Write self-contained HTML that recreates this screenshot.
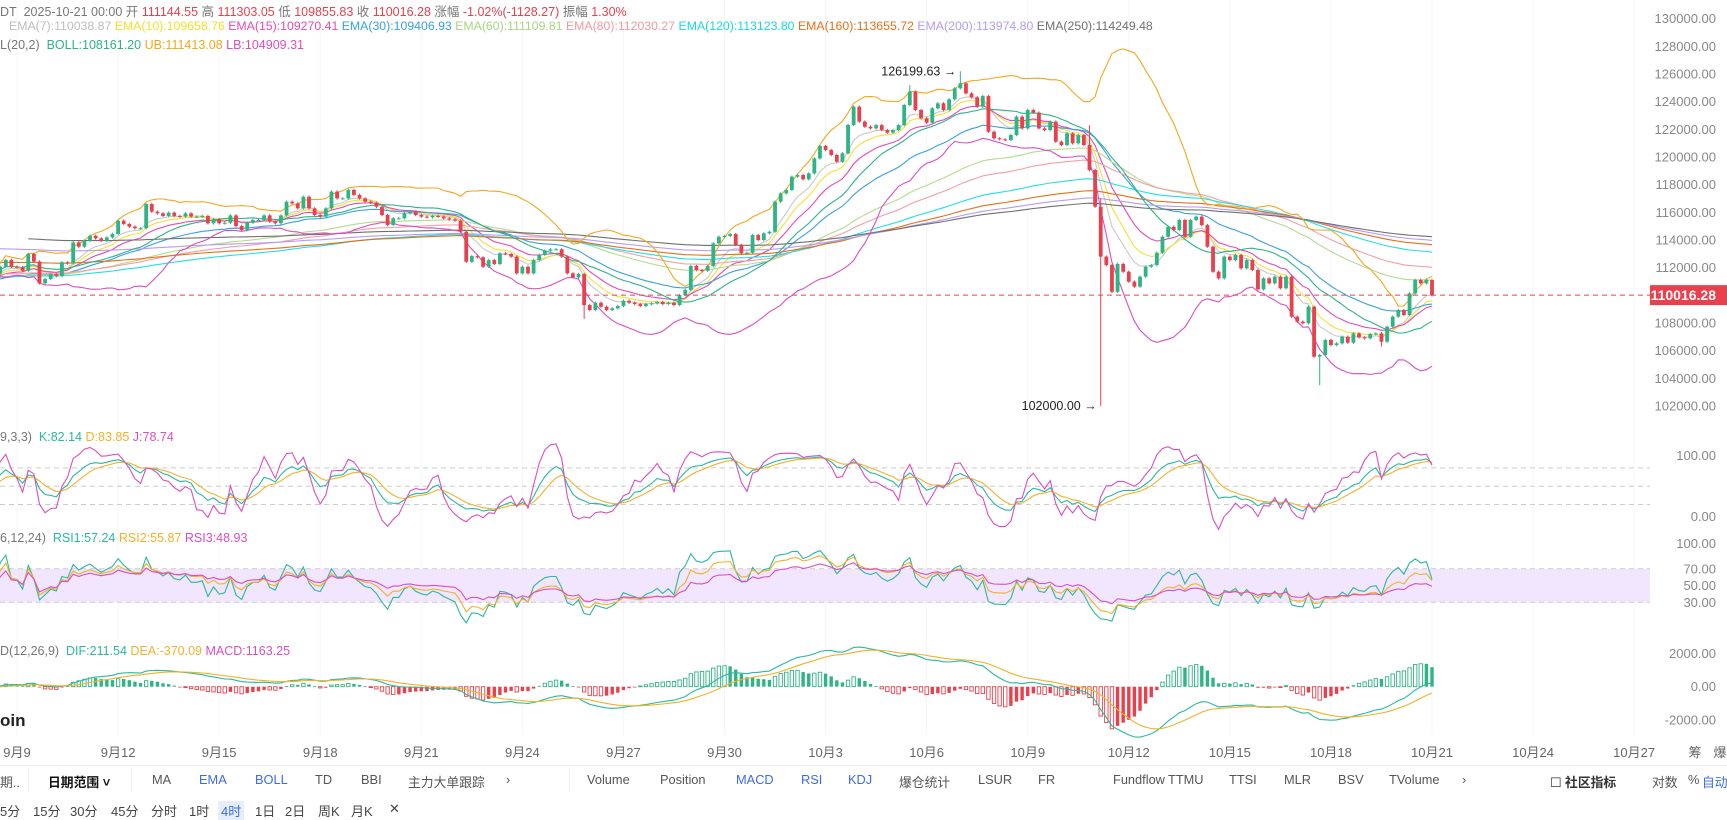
<!DOCTYPE html>
<html><head><meta charset="utf-8">
<style>
html,body{margin:0;padding:0;background:#fff;}
body{width:1727px;height:817px;overflow:hidden;position:relative;font-family:"Liberation Sans","Noto Sans CJK SC",sans-serif;}
.t{position:absolute;white-space:nowrap;font-size:12.5px;color:#777;}
.r{color:#e8414d}
.tb{position:absolute;font-size:12.8px;color:#555;white-space:nowrap;top:772px;}
.bl{color:#3d6be5}
.br{position:absolute;font-size:13px;color:#444;white-space:nowrap;top:801px;}
</style></head>
<body>
<svg id="chart" width="1727" height="817" style="position:absolute;left:0;top:0"></svg>

<div class="t" style="left:0;top:1px">DT&nbsp; 2025-10-21 00:00 开 <span class="r">111144.55</span> 高 <span class="r">111303.05</span> 低 <span class="r">109855.83</span> 收 <span class="r">110016.28</span> 涨幅 <span class="r">-1.02%(-1128.27)</span> 振幅 <span class="r">1.30%</span></div>
<div class="t" style="left:9px;top:19px;font-size:12.3px"><span style="color:#bdbdbd">EMA(7):110038.87</span> <span style="color:#f2df2a">EMA(10):109658.76</span> <span style="color:#e24bb4">EMA(15):109270.41</span> <span style="color:#3aa0e0">EMA(30):109406.93</span> <span style="color:#a8d485">EMA(60):111109.81</span> <span style="color:#f09aa0">EMA(80):112030.27</span> <span style="color:#18d8e0">EMA(120):113123.80</span> <span style="color:#e4711a">EMA(160):113655.72</span> <span style="color:#b69cf0">EMA(200):113974.80</span> <span style="color:#707070">EMA(250):114249.48</span></div>
<div class="t" style="left:0;top:38px">L(20,2)&nbsp; <span style="color:#2db38a">BOLL:108161.20</span> <span style="color:#f2a81d">UB:111413.08</span> <span style="color:#d94fc0">LB:104909.31</span></div>
<div class="t" style="left:0;top:430px">9,3,3)&nbsp; <span style="color:#2ab8a0">K:82.14</span> <span style="color:#f2b229">D:83.85</span> <span style="color:#d94fc0">J:78.74</span></div>
<div class="t" style="left:0;top:531px">6,12,24)&nbsp; <span style="color:#2ab8a0">RSI1:57.24</span> <span style="color:#f2b229">RSI2:55.87</span> <span style="color:#d94fc0">RSI3:48.93</span></div>
<div class="t" style="left:0;top:644px">D(12,26,9)&nbsp; <span style="color:#2ab8a0">DIF:211.54</span> <span style="color:#f2b229">DEA:-370.09</span> <span style="color:#d94fc0">MACD:1163.25</span></div>
<div class="t" style="left:0;top:711px;font-size:17px;font-weight:bold;color:#222">oin</div>

<div style="position:absolute;left:0;top:765px;width:1727px;height:1px;background:#eee"></div>
<div class="tb" style="left:0">期..</div>
<div style="position:absolute;left:28px;top:768px;width:1px;height:24px;background:#eee"></div>
<div class="tb" style="left:48px;color:#111;font-weight:bold">日期范围 ˅</div>
<div style="position:absolute;left:131px;top:768px;width:1px;height:24px;background:#eee"></div>
<div class="tb" style="left:152px">MA</div>
<div class="tb bl" style="left:199px">EMA</div>
<div class="tb bl" style="left:255px">BOLL</div>
<div class="tb" style="left:315px">TD</div>
<div class="tb" style="left:361px">BBI</div>
<div class="tb" style="left:408px">主力大单跟踪</div>
<div class="tb" style="left:506px">›</div>
<div style="position:absolute;left:569px;top:768px;width:1px;height:24px;background:#eee"></div>
<div class="tb" style="left:587px">Volume</div>
<div class="tb" style="left:660px">Position</div>
<div class="tb bl" style="left:736px">MACD</div>
<div class="tb bl" style="left:801px">RSI</div>
<div class="tb bl" style="left:848px">KDJ</div>
<div class="tb" style="left:899px">爆仓统计</div>
<div class="tb" style="left:978px">LSUR</div>
<div class="tb" style="left:1038px">FR</div>
<div class="tb" style="left:1113px">Fundflow</div>
<div class="tb" style="left:1168px">TTMU</div>
<div class="tb" style="left:1229px">TTSI</div>
<div class="tb" style="left:1284px">MLR</div>
<div class="tb" style="left:1338px">BSV</div>
<div class="tb" style="left:1389px">TVolume</div>
<div class="tb" style="left:1462px">›</div>
<div class="tb" style="left:1550px;color:#333">☐ <b>社区指标</b></div>
<div class="tb" style="left:1652px">对数</div>
<div class="tb" style="left:1688px">%</div>
<div class="tb bl" style="left:1702px">自动</div>

<div class="br" style="left:0">5分</div>
<div class="br" style="left:33px">15分</div>
<div class="br" style="left:70px">30分</div>
<div class="br" style="left:111px">45分</div>
<div class="br" style="left:151px">分时</div>
<div class="br" style="left:189px">1时</div>
<div class="br" style="left:218px;background:#e6eefc;color:#3d6be5;padding:0 3px">4时</div>
<div class="br" style="left:255px">1日</div>
<div class="br" style="left:285px">2日</div>
<div class="br" style="left:318px">周K</div>
<div class="br" style="left:351px">月K</div>
<div class="br" style="left:389px">✕</div>

<script>
// ---- data ----
const closes = [111590,112070,112560,112070,112030,111780,112990,112440,110870,111180,111520,111400,112390,112310,113830,113520,113950,114310,114120,113950,114190,114440,115400,115160,114970,114850,114850,116600,116050,115930,115740,115980,115740,115690,115930,115690,115690,115740,115210,115500,115210,115250,115780,115010,114720,115250,115450,115450,115780,115330,115210,115780,116770,116650,116290,117130,116290,115810,115690,116290,117500,117010,117010,117620,117260,117010,116770,116700,116410,115810,115090,115570,115570,115930,116050,115810,115690,115640,115740,
115690,115570,115490,115400,114600,112430,112840,112750,112070,112550,112270,113040,112990,112800,111590,112070,111590,112550,112920,113230,113330,113330,112800,111590,111300,111540,109300,108940,109470,109180,108940,109060,109230,109610,109470,109370,109230,109370,109420,109520,109370,109470,109300,110020,110390,112120,111830,111780,112120,113760,114240,114290,114430,113640,113040,113080,114360,114000,114480,114600,116770,117370,117620,118580,118700,118390,118820,119900,120800,120510,120150,119660,120270,122320,123640,
122560,122190,122070,122310,121950,121760,121950,122310,123760,124730,123400,122800,122480,123520,123880,123400,124170,124970,125330,124600,124320,123640,124410,121830,121350,121280,121230,121590,122920,122070,123400,123210,122070,121950,122560,121110,120870,121710,120990,121590,120870,119060,116410,112800,112190,110260,112270,111710,110990,110630,111350,112070,112190,113080,114240,114960,114720,115450,114240,115450,115690,115080,113520,111710,111230,112800,112550,112920,111950,112550,111830,110430,111230,110870,111350,110510,111350,108460,108100,107980,109180,
105570,105690,106770,106410,106530,107010,106580,107250,106960,106890,107200,107250,106650,107730,108460,108940,108580,110140,111110,110870,111110,110016.28];
const firstOpen = 111400;
const highOverrides = {163:125200, 172:126199.63, 195:122300, 197:117000};
const lowOverrides = {197:102000, 236:103500, 105:108300, 247:106300};
const emaPeriods = [7,10,15,30,60,80,120,160,200,250];
const emaSeeds = [111500,111400,111300,111100,111300,111500,111300,112400,113400,114200];
const emaColors = ['#c9c9c9','#f4e13a','#e24bb4','#3aa0e0','#b5db8f','#f2a0a6','#22dfe6','#e4711a','#b69cf0','#707070'];
const priceTicks = [130000,128000,126000,124000,122000,120000,118000,116000,114000,112000,108000,106000,104000,102000];
const kdjTicks = [100,0];
const rsiTicks = [100,70,50,30];
const macdTicks = [2000,0,-2000];
const dateLabels = ['9月9','9月12','9月15','9月18','9月21','9月24','9月27','9月30','10月3','10月6','10月9','10月12','10月15','10月18','10月21','10月24','10月27'];
const dateDaysBeforeLast = [42,39,36,33,30,27,24,21,18,15,12,9,6,3,0,-3,-6];

// ---- axes ----
const N = closes.length, DX = 5.615, XLAST = 1432, PLOTR = 1650;
const xOf = i => XLAST - (N-1-i)*DX;
const xDay = d => XLAST - d*6*DX;
const yP = p => 18.7 + (130000-p)*0.013833;
const yK = v => 516.7 - v*0.61;
const yR = v => 627.4 - v*0.837;
const yM = v => 686.7 - v*0.01668;

const svg = document.getElementById('chart');
const NS = 'http://www.w3.org/2000/svg';
function mk(tag, attrs, parent){const e=document.createElementNS(NS,tag);for(const k in attrs)e.setAttribute(k,attrs[k]);(parent||svg).appendChild(e);return e;}

const opens=[],highs=[],lows=[];
for(let i=0;i<N;i++){const o=i?closes[i-1]:firstOpen;opens.push(o);
 highs.push(highOverrides[i]!==undefined?highOverrides[i]:Math.max(o,closes[i])+90);
 lows.push(lowOverrides[i]!==undefined?lowOverrides[i]:Math.min(o,closes[i])-90);}

const defs=mk('defs',{});
const cp=mk('clipPath',{id:'plot'},defs);mk('rect',{x:0,y:0,width:PLOTR,height:760},cp);

for(let d=0;d<dateLabels.length;d++){const gl=mk('line',{x1:xDay(dateDaysBeforeLast[d]),x2:xDay(dateDaysBeforeLast[d]),y1:0,y2:735,stroke:'#f6f6f6'});

}

const band=mk('rect',{x:0,y:yR(70),width:PLOTR,height:yR(30)-yR(70),fill:'#f1e6fd'});


[70,30].forEach(v=>{const l=mk('line',{x1:0,x2:PLOTR,y1:yR(v),y2:yR(v),stroke:'#ccc','stroke-dasharray':'5,4'});

});
[80,50,20].forEach(v=>{const l=mk('line',{x1:0,x2:PLOTR,y1:yK(v),y2:yK(v),stroke:'#ccc','stroke-dasharray':'5,4'});

});

function polyline(vals,yf,color,name,start){let pts=[];for(let i=start||0;i<N;i++){if(vals[i]==null)continue;pts.push(xOf(i).toFixed(1)+','+yf(vals[i]).toFixed(1));}
 const p=mk('polyline',{points:pts.join(' '),fill:'none',stroke:color,'stroke-width':1.1,'clip-path':'url(#plot)'});
 
 return p;}

emaPeriods.forEach((n,k)=>{const a=2/(n+1);let e=emaSeeds[k];const arr=[];for(let i=0;i<N;i++){e=a*closes[i]+(1-a)*e;arr.push(e);}
 polyline(arr,yP,emaColors[k],'ema-'+n+'-line',n===250?6:0);});

const mid=[],ub=[],lb=[];
for(let i=0;i<N;i++){const s=Math.max(0,i-19);const w=closes.slice(s,i+1);const m=w.reduce((a,b)=>a+b,0)/w.length;
 const sd=Math.sqrt(w.reduce((a,b)=>a+(b-m)*(b-m),0)/w.length);mid.push(m);ub.push(m+2*sd);lb.push(m-2*sd);}
polyline(mid,yP,'#2db38a','boll-mid-line');
polyline(ub,yP,'#f2a81d','boll-upper-line');
polyline(lb,yP,'#d94fc0','boll-lower-line');

for(let i=0;i<N;i++){const up=closes[i]>=opens[i];const col=up?'#2fb486':'#e8414d';const x=xOf(i);
 const w=mk('line',{x1:x,x2:x,y1:yP(highs[i]),y2:yP(lows[i]),stroke:col,'stroke-width':1});
 
 
 const top=yP(Math.max(opens[i],closes[i])),bot=yP(Math.min(opens[i],closes[i]));
 const b=mk('rect',{x:x-1.9,y:top,width:3.8,height:Math.max(1,bot-top),fill:col});
 
 }

const lp=mk('line',{x1:0,x2:PLOTR,y1:yP(closes[N-1]),y2:yP(closes[N-1]),stroke:'#e8414d','stroke-dasharray':'5,4'});


const tag=mk('rect',{x:1650,y:yP(closes[N-1])-10,width:77,height:20,fill:'#e8414d'});


const tt=mk('text',{x:1716,y:yP(closes[N-1])+5,'text-anchor':'end','font-size':14,fill:'#fff','font-weight':'bold'});
tt.textContent=closes[N-1].toFixed(2);



let hi=0,lo=0;for(let i=0;i<N;i++){if(highs[i]>highs[hi])hi=i;if(lows[i]<lows[lo])lo=i;}
const ah=mk('text',{x:xOf(hi)-4,y:yP(highs[hi])+4,'text-anchor':'end','font-size':12.5,fill:'#222'});
ah.textContent=highs[hi].toFixed(2)+' →';


const al=mk('text',{x:xOf(lo)-4,y:yP(lows[lo])+4,'text-anchor':'end','font-size':12.5,fill:'#222'});
al.textContent=lows[lo].toFixed(2)+' →';



const K=[],D=[],J=[];let k=50,d=50;
for(let i=0;i<N;i++){const s=Math.max(0,i-8);const hh=Math.max(...highs.slice(s,i+1)),ll=Math.min(...lows.slice(s,i+1));
 const rsv=hh>ll?(closes[i]-ll)/(hh-ll)*100:50;k=2/3*k+rsv/3;d=2/3*d+k/3;K.push(k);D.push(d);J.push(3*k-2*d);}
polyline(K,yK,'#2ab8a0','kdj-k-line');
polyline(D,yK,'#f2b229','kdj-d-line');
polyline(J,yK,'#d94fc0','kdj-j-line');

function rsi(n){const out=[50];let g=40,l=40;for(let i=1;i<N;i++){const ch=closes[i]-closes[i-1];g=(g*(n-1)+Math.max(ch,0))/n;l=(l*(n-1)+Math.max(-ch,0))/n;out.push(l===0?100:100-100/(1+g/l));}return out;}
polyline(rsi(6),yR,'#2ab8a0','rsi1-line');
polyline(rsi(12),yR,'#f2b229','rsi2-line');
polyline(rsi(24),yR,'#d94fc0','rsi3-line');

const dif=[],dea=[],hist=[];let e12=closes[0],e26=closes[0],de=0;
for(let i=0;i<N;i++){e12=2/13*closes[i]+11/13*e12;e26=2/27*closes[i]+25/27*e26;const df=e12-e26;de=0.2*df+0.8*de;dif.push(df);dea.push(de);hist.push(2*(df-de));}
for(let i=0;i<N;i++){const h=hist[i];const col=h>=0?'#2fb486':'#e8414d';const grow=i>0&&Math.abs(h)>Math.abs(hist[i-1]);
 const y0=yM(0),y1=yM(h);const x=xOf(i);
 const r=mk('rect',{x:x-1.7,y:Math.min(y0,y1),width:3.4,height:Math.max(0.8,Math.abs(y1-y0)),fill:grow?'#fff':col,stroke:col,'stroke-width':grow?0.9:0});
 
 }
polyline(dif,yM,'#2ab8a0','macd-dif-line');
polyline(dea,yM,'#f2b229','macd-dea-line');

function axisLabel(txt,y,name){const t=mk('text',{x:1716,y:y+4.5,'text-anchor':'end','font-size':13,fill:'#888'});t.textContent=txt;
 
 }
priceTicks.forEach(v=>axisLabel(v.toFixed(2),yP(v),'price-tick'));
kdjTicks.forEach(v=>axisLabel(v.toFixed(2),yK(v),'kdj-tick'));
rsiTicks.forEach(v=>axisLabel(v.toFixed(2),yR(v),'rsi-tick'));
macdTicks.forEach(v=>axisLabel(v.toFixed(2),yM(v),'macd-tick'));
dateLabels.forEach((s,j)=>{const t=mk('text',{x:xDay(dateDaysBeforeLast[j]),y:757,'text-anchor':'middle','font-size':13,fill:'#666'});t.textContent=s;
 
 });
const c1=mk('text',{x:1695,y:757,'text-anchor':'middle','font-size':13,fill:'#666'});c1.textContent='筹';


const c2=mk('text',{x:1720,y:757,'text-anchor':'middle','font-size':13,fill:'#666'});c2.textContent='爆';


</script>
</body></html>
